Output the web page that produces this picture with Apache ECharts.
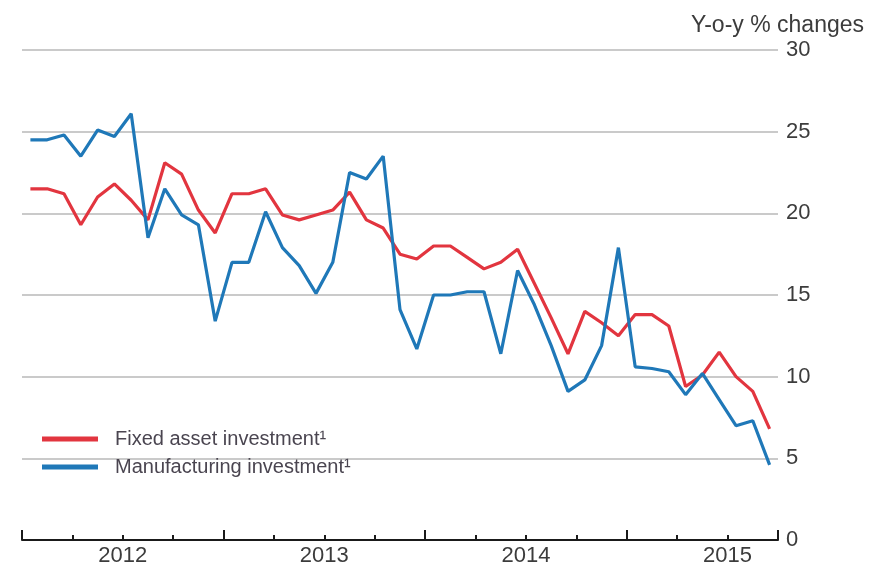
<!DOCTYPE html>
<html lang="en">
<head>
<meta charset="utf-8">
<title>Fixed asset and manufacturing investment</title>
<script src="https://cdn.jsdelivr.net/npm/echarts@6/dist/echarts.min.js"></script>
</head>
<body style="margin:0;background:#fff">
<div id="main" style="width:875px;height:570px"></div>
<script>
// monthly, Jan 2012 - Sep 2015
var years = ['2012', '2013', '2014', '2015'];
var lastYearMonths = 9;

var fixedAsset = [
  21.5, 21.5, 21.2, 19.3, 21.0, 21.8, 20.8, 19.6, 23.1, 22.4, 20.2, 18.8,
  21.2, 21.2, 21.5, 19.9, 19.6, 19.9, 20.2, 21.3, 19.6, 19.1, 17.5, 17.2,
  18.0, 18.0, 17.3, 16.6, 17.0, 17.8, 15.7, 13.6, 11.4, 14.0, 13.3, 12.5,
  13.8, 13.8, 13.1, 9.4, 10.1, 11.5, 10.0, 9.1, 6.8
];
var manufacturing = [
  24.5, 24.5, 24.8, 23.5, 25.1, 24.7, 26.1, 18.5, 21.5, 19.9, 19.3, 13.4,
  17.0, 17.0, 20.1, 17.9, 16.8, 15.1, 17.0, 22.5, 22.1, 23.5, 14.1, 11.7,
  15.0, 15.0, 15.2, 15.2, 11.4, 16.5, 14.4, 11.9, 9.1, 9.8, 11.9, 17.9,
  10.6, 10.5, 10.3, 8.9, 10.2, 8.6, 7.0, 7.3, 4.6
];

var months = [];
years.forEach(function (y, k) {
  var n = k === years.length - 1 ? lastYearMonths : 12;
  for (var m = 1; m <= n; m++) months.push(y + '-' + (m < 10 ? '0' + m : m));
});

var textColor = '#3c3c3c';
var font = 'Liberation Sans, Arial, sans-serif';
var axisColor = '#1a1a1a';
var box = {left: 22, right: 97, top: 50, bottom: 30};

var chart = echarts.init(document.getElementById('main'));
chart.setOption({
  animation: false,
  title: {
    text: 'Y-o-y % changes',
    right: 6,
    top: 9,
    textStyle: {fontSize: 23, fontWeight: 'normal', color: textColor, fontFamily: font}
  },
  legend: {
    orient: 'vertical',
    left: 37,
    top: 424,
    itemWidth: 56,
    itemHeight: 5,
    itemGap: 8,
    icon: 'rect',
    textStyle: {fontSize: 20, color: '#4a4550', fontFamily: font, padding: [0, 0, 0, 12]},
    data: ['Fixed asset investment¹', 'Manufacturing investment¹']
  },
  grid: [Object.assign({}, box), Object.assign({}, box)],
  xAxis: [
    {
      type: 'category',
      gridIndex: 0,
      data: months,
      boundaryGap: true,
      axisLine: {lineStyle: {color: axisColor, width: 2}},
      axisTick: {
        show: true,
        inside: true,
        length: 5,
        interval: function (i) { return i % 3 === 0; },
        lineStyle: {color: axisColor, width: 2}
      },
      axisLabel: {
        interval: function (i) { return i % 12 === 6; },
        formatter: function (v) { return v.slice(0, 4); },
        padding: [0, 17, 0, 0],
        margin: 5,
        fontSize: 22,
        color: textColor,
        fontFamily: font
      },
      splitLine: {show: false}
    },
    {
      // year ticks, taller
      type: 'category',
      gridIndex: 1,
      data: months,
      boundaryGap: true,
      axisLine: {show: false},
      axisTick: {
        show: true,
        inside: true,
        length: 10,
        interval: function (i) { return i % 12 === 0; },
        lineStyle: {color: axisColor, width: 2}
      },
      axisLabel: {show: false},
      splitLine: {show: false}
    }
  ],
  yAxis: [
    {
      type: 'value',
      gridIndex: 0,
      position: 'right',
      min: 0,
      max: 30,
      interval: 5,
      axisLine: {show: false},
      axisTick: {show: false},
      axisLabel: {margin: 8, fontSize: 22, color: textColor, fontFamily: font},
      splitLine: {lineStyle: {color: '#cacaca', width: 2}}
    },
    {type: 'value', gridIndex: 1, min: 0, max: 30, show: false}
  ],
  series: [
    {
      name: 'Fixed asset investment¹',
      type: 'line',
      data: fixedAsset,
      symbol: 'none',
      color: '#e2353f',
      lineStyle: {width: 3.2}
    },
    {
      name: 'Manufacturing investment¹',
      type: 'line',
      data: manufacturing,
      symbol: 'none',
      color: '#1f78b8',
      lineStyle: {width: 3.2}
    }
  ]
});
</script>
</body>
</html>
